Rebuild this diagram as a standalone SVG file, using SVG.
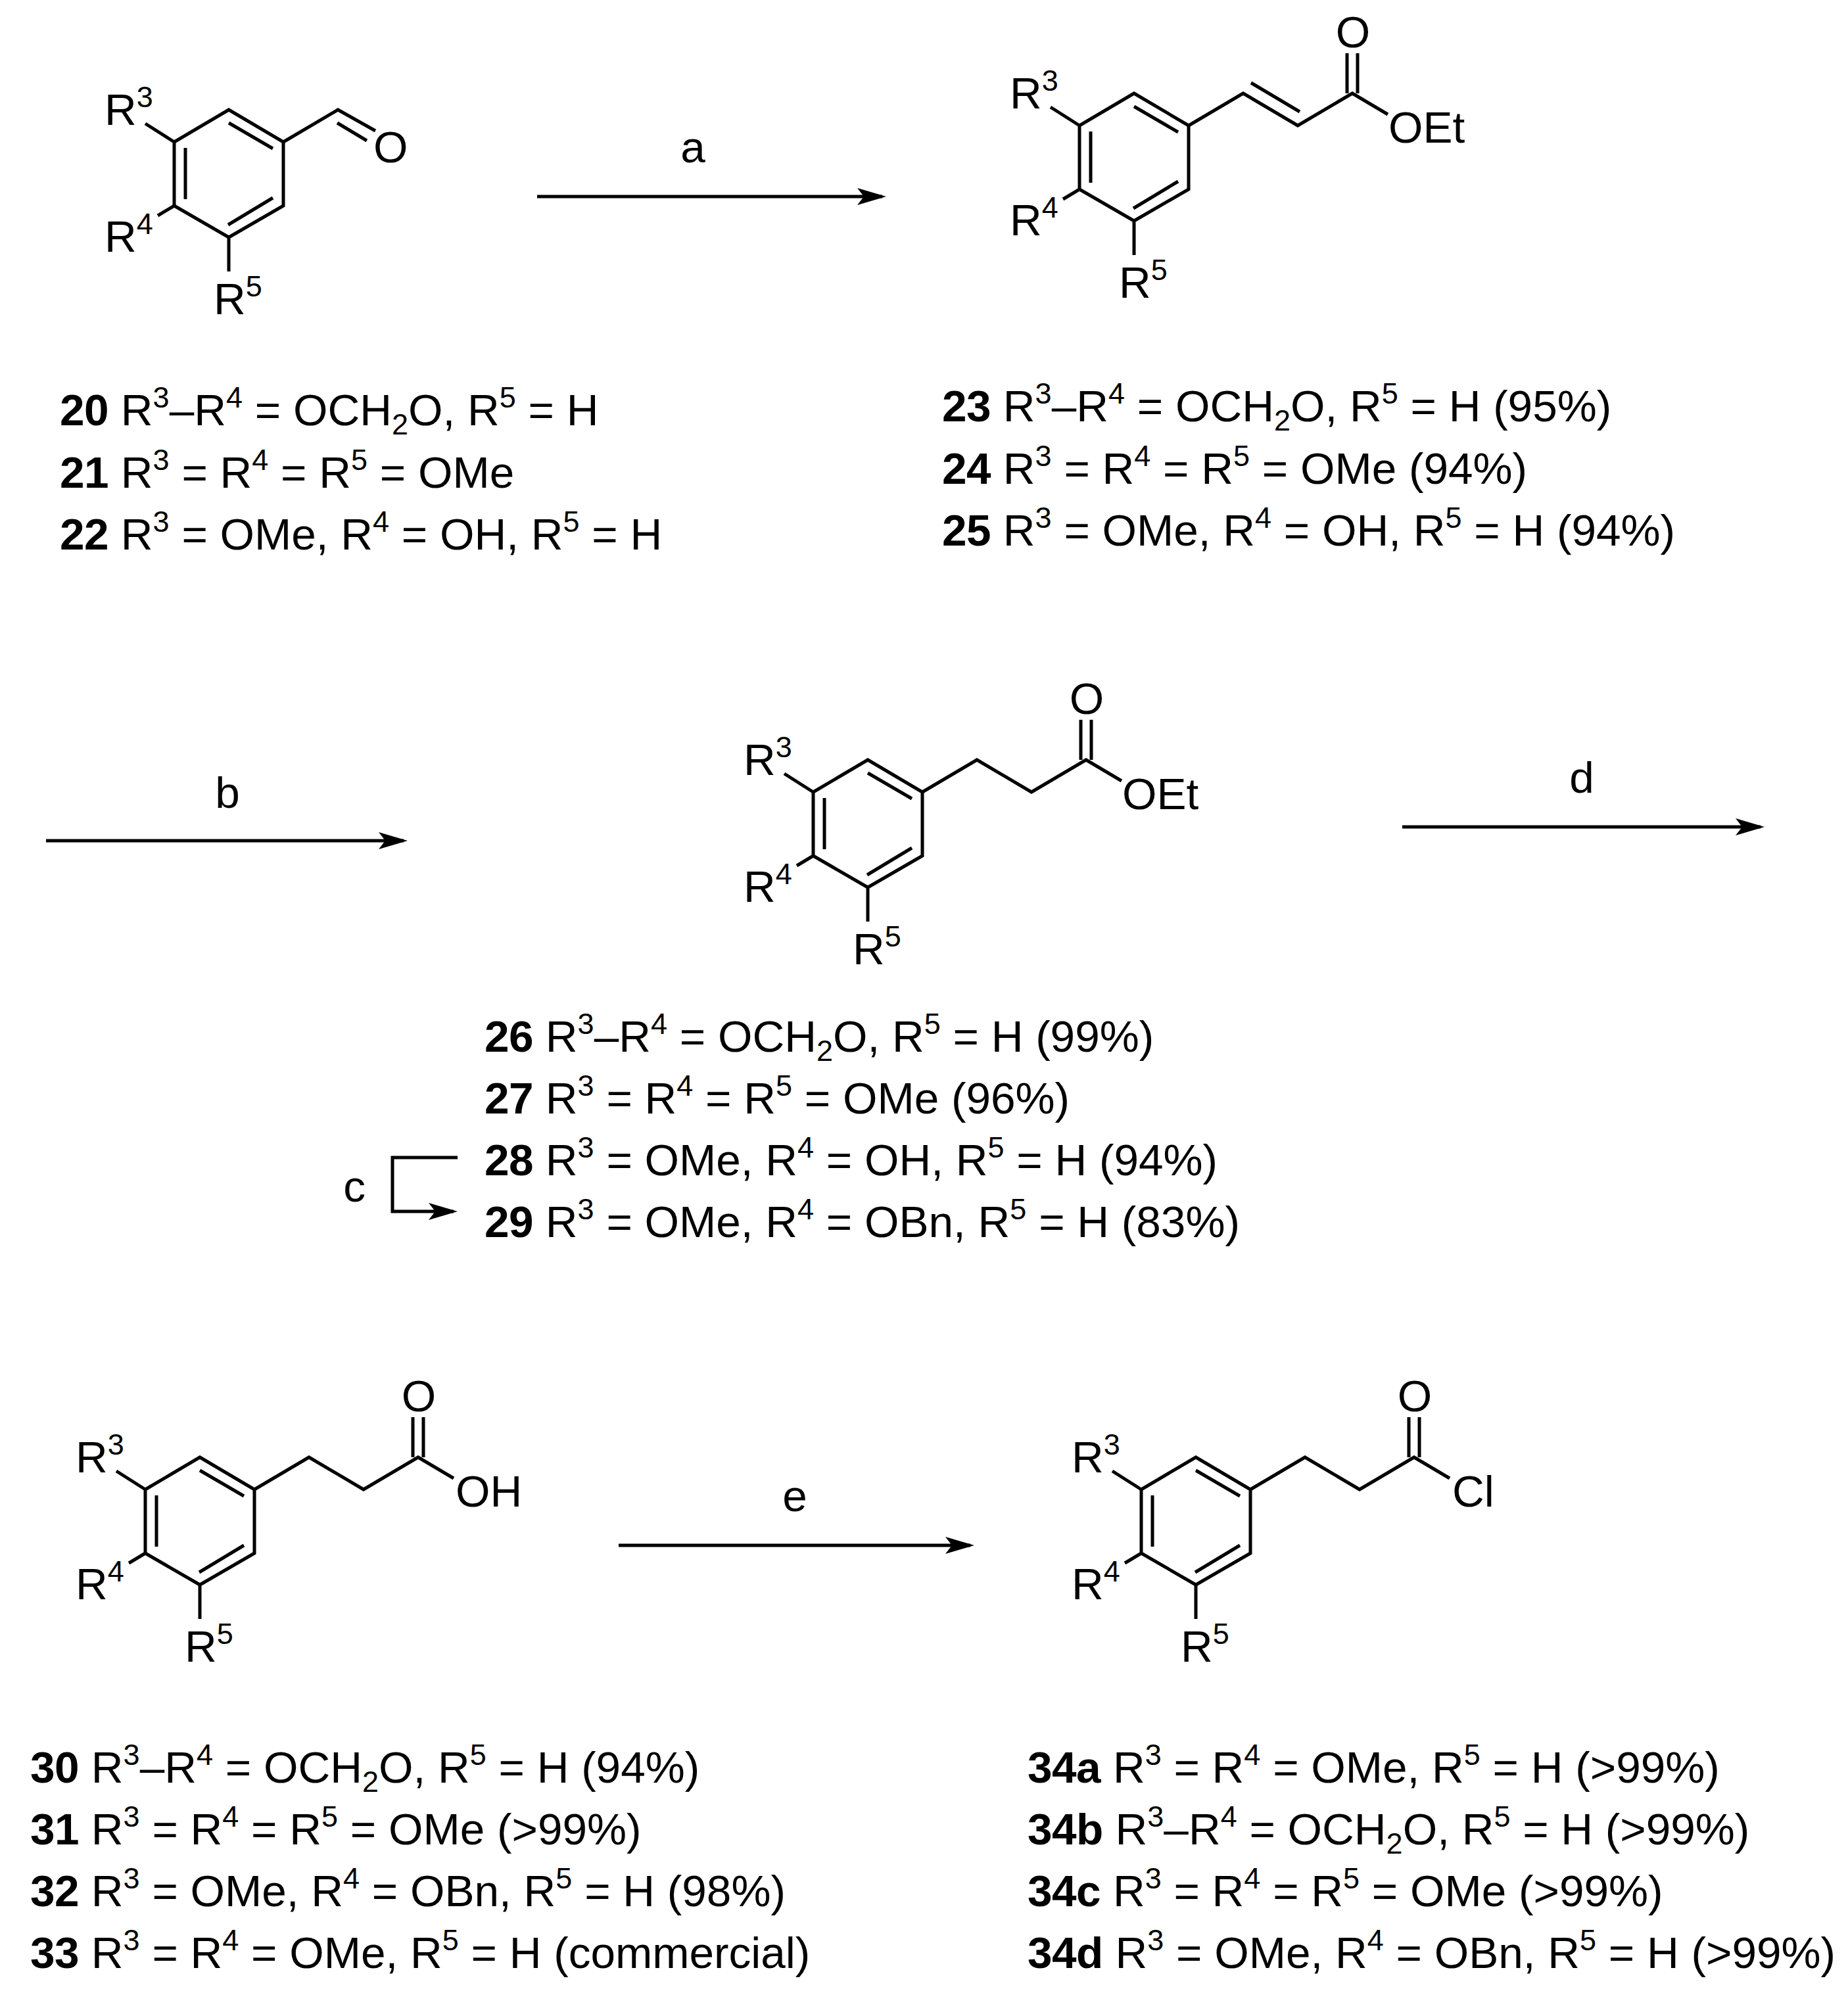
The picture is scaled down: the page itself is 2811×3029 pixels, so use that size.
<svg xmlns="http://www.w3.org/2000/svg" width="2811" height="3029" viewBox="0 0 2811 3029">
<style>
text{font-family:"Liberation Sans",Arial,sans-serif;font-size:67.5px;fill:#000}
.s{font-size:45px}
.n{font-weight:bold;letter-spacing:-0.5px}
.bond{fill:none;stroke:#000;stroke-width:5;stroke-linejoin:miter}
.arrow{fill:none;stroke:#000;stroke-width:5}
</style>
<defs>
<marker id="head" markerUnits="userSpaceOnUse" markerWidth="46" markerHeight="30" refX="38" refY="15" orient="auto"><path d="M0 2L44 15L0 28L10 15Z" fill="#000"/></marker>
<path id="core" class="bond" d="M348 167L431 216L431 313L348 361L265 313L265 216ZM348 187L415 226M282 225L282 303M347 342L415 301M221 188L265 216M240 328L265 313M348 361L348 413"/>
<path id="acyl" class="bond" d="M431 216L514 167L597 216L680 167L734 199M672 167V106M688 167V106"/>
</defs>
<rect width="2811" height="3029" fill="#fff"/>
<g id="connectors">
<line class="arrow" x1="817" y1="299" x2="1342" y2="299" marker-end="url(#head)"/>
<line class="arrow" x1="70" y1="1279" x2="614" y2="1279" marker-end="url(#head)"/>
<line class="arrow" x1="2133" y1="1258" x2="2678" y2="1258" marker-end="url(#head)"/>
<line class="arrow" x1="941" y1="2351" x2="1476" y2="2351" marker-end="url(#head)"/>
<path class="arrow" d="M696 1761H597V1843H690" marker-end="url(#head)"/>
</g>
<g id="labels">
<text x="1054" y="247" text-anchor="middle">a</text>
<text x="346" y="1229" text-anchor="middle">b</text>
<text x="539" y="1828" text-anchor="middle">c</text>
<text x="2406" y="1206" text-anchor="middle">d</text>
<text x="1209" y="2299" text-anchor="middle">e</text>
</g>
<g id="s20">
<use href="#core"/>
<path class="bond" d="M431 216L514 167L571 199M513 187L558 214"/>
<text x="568" y="247">O</text>
<text x="159" y="190">R<tspan class="s" dy="-27">3</tspan></text>
<text x="159" y="383">R<tspan class="s" dy="-27">4</tspan></text>
<text x="325" y="478">R<tspan class="s" dy="-27">5</tspan></text>
</g>
<g id="s23" transform="translate(1377,-25)">
<use href="#core"/>
<use href="#acyl"/>
<path class="bond" d="M526 151L600 195"/>
<text x="681" y="97" text-anchor="middle">O</text>
<text x="735" y="242">OEt</text>
<text x="159" y="190">R<tspan class="s" dy="-27">3</tspan></text>
<text x="159" y="383">R<tspan class="s" dy="-27">4</tspan></text>
<text x="325" y="478">R<tspan class="s" dy="-27">5</tspan></text>
</g>
<g id="s26" transform="translate(972,989)">
<use href="#core"/>
<use href="#acyl"/>
<text x="681" y="97" text-anchor="middle">O</text>
<text x="735" y="242">OEt</text>
<text x="159" y="190">R<tspan class="s" dy="-27">3</tspan></text>
<text x="159" y="383">R<tspan class="s" dy="-27">4</tspan></text>
<text x="325" y="478">R<tspan class="s" dy="-27">5</tspan></text>
</g>
<g id="s30" transform="translate(-44,2050)">
<use href="#core"/>
<use href="#acyl"/>
<text x="681" y="97" text-anchor="middle">O</text>
<text x="737" y="242">OH</text>
<text x="159" y="190">R<tspan class="s" dy="-27">3</tspan></text>
<text x="159" y="383">R<tspan class="s" dy="-27">4</tspan></text>
<text x="325" y="478">R<tspan class="s" dy="-27">5</tspan></text>
</g>
<g id="s34" transform="translate(1471,2050)">
<use href="#core"/>
<use href="#acyl"/>
<text x="681" y="97" text-anchor="middle">O</text>
<text x="738" y="242">Cl</text>
<text x="159" y="190">R<tspan class="s" dy="-27">3</tspan></text>
<text x="159" y="383">R<tspan class="s" dy="-27">4</tspan></text>
<text x="325" y="478">R<tspan class="s" dy="-27">5</tspan></text>
</g>
<g id="list-20-22">
<text x="91" y="647"><tspan class="n">20</tspan> R<tspan class="s" dy="-27">3</tspan><tspan dy="27">–R</tspan><tspan class="s" dy="-27">4</tspan><tspan dy="27"> = OCH</tspan><tspan class="s" dy="14">2</tspan><tspan dy="-14">O, R</tspan><tspan class="s" dy="-27">5</tspan><tspan dy="27"> = H</tspan></text>
<text x="91" y="742"><tspan class="n">21</tspan> R<tspan class="s" dy="-27">3</tspan><tspan dy="27"> = R</tspan><tspan class="s" dy="-27">4</tspan><tspan dy="27"> = R</tspan><tspan class="s" dy="-27">5</tspan><tspan dy="27"> = OMe</tspan></text>
<text x="91" y="836"><tspan class="n">22</tspan> R<tspan class="s" dy="-27">3</tspan><tspan dy="27"> = OMe, R</tspan><tspan class="s" dy="-27">4</tspan><tspan dy="27"> = OH, R</tspan><tspan class="s" dy="-27">5</tspan><tspan dy="27"> = H</tspan></text>
</g>
<g id="list-23-25">
<text x="1433" y="641"><tspan class="n">23</tspan> R<tspan class="s" dy="-27">3</tspan><tspan dy="27">–R</tspan><tspan class="s" dy="-27">4</tspan><tspan dy="27"> = OCH</tspan><tspan class="s" dy="14">2</tspan><tspan dy="-14">O, R</tspan><tspan class="s" dy="-27">5</tspan><tspan dy="27"> = H (95%)</tspan></text>
<text x="1433" y="736"><tspan class="n">24</tspan> R<tspan class="s" dy="-27">3</tspan><tspan dy="27"> = R</tspan><tspan class="s" dy="-27">4</tspan><tspan dy="27"> = R</tspan><tspan class="s" dy="-27">5</tspan><tspan dy="27"> = OMe (94%)</tspan></text>
<text x="1433" y="830"><tspan class="n">25</tspan> R<tspan class="s" dy="-27">3</tspan><tspan dy="27"> = OMe, R</tspan><tspan class="s" dy="-27">4</tspan><tspan dy="27"> = OH, R</tspan><tspan class="s" dy="-27">5</tspan><tspan dy="27"> = H (94%)</tspan></text>
</g>
<g id="list-26-29">
<text x="737" y="1600"><tspan class="n">26</tspan> R<tspan class="s" dy="-27">3</tspan><tspan dy="27">–R</tspan><tspan class="s" dy="-27">4</tspan><tspan dy="27"> = OCH</tspan><tspan class="s" dy="14">2</tspan><tspan dy="-14">O, R</tspan><tspan class="s" dy="-27">5</tspan><tspan dy="27"> = H (99%)</tspan></text>
<text x="737" y="1694"><tspan class="n">27</tspan> R<tspan class="s" dy="-27">3</tspan><tspan dy="27"> = R</tspan><tspan class="s" dy="-27">4</tspan><tspan dy="27"> = R</tspan><tspan class="s" dy="-27">5</tspan><tspan dy="27"> = OMe (96%)</tspan></text>
<text x="737" y="1788"><tspan class="n">28</tspan> R<tspan class="s" dy="-27">3</tspan><tspan dy="27"> = OMe, R</tspan><tspan class="s" dy="-27">4</tspan><tspan dy="27"> = OH, R</tspan><tspan class="s" dy="-27">5</tspan><tspan dy="27"> = H (94%)</tspan></text>
<text x="737" y="1882"><tspan class="n">29</tspan> R<tspan class="s" dy="-27">3</tspan><tspan dy="27"> = OMe, R</tspan><tspan class="s" dy="-27">4</tspan><tspan dy="27"> = OBn, R</tspan><tspan class="s" dy="-27">5</tspan><tspan dy="27"> = H (83%)</tspan></text>
</g>
<g id="list-30-33">
<text x="46" y="2712"><tspan class="n">30</tspan> R<tspan class="s" dy="-27">3</tspan><tspan dy="27">–R</tspan><tspan class="s" dy="-27">4</tspan><tspan dy="27"> = OCH</tspan><tspan class="s" dy="14">2</tspan><tspan dy="-14">O, R</tspan><tspan class="s" dy="-27">5</tspan><tspan dy="27"> = H (94%)</tspan></text>
<text x="46" y="2806"><tspan class="n">31</tspan> R<tspan class="s" dy="-27">3</tspan><tspan dy="27"> = R</tspan><tspan class="s" dy="-27">4</tspan><tspan dy="27"> = R</tspan><tspan class="s" dy="-27">5</tspan><tspan dy="27"> = OMe (&gt;99%)</tspan></text>
<text x="46" y="2900"><tspan class="n">32</tspan> R<tspan class="s" dy="-27">3</tspan><tspan dy="27"> = OMe, R</tspan><tspan class="s" dy="-27">4</tspan><tspan dy="27"> = OBn, R</tspan><tspan class="s" dy="-27">5</tspan><tspan dy="27"> = H (98%)</tspan></text>
<text x="46" y="2994"><tspan class="n">33</tspan> R<tspan class="s" dy="-27">3</tspan><tspan dy="27"> = R</tspan><tspan class="s" dy="-27">4</tspan><tspan dy="27"> = OMe, R</tspan><tspan class="s" dy="-27">5</tspan><tspan dy="27"> = H (commercial)</tspan></text>
</g>
<g id="list-34">
<text x="1563" y="2712"><tspan class="n">34a</tspan> R<tspan class="s" dy="-27">3</tspan><tspan dy="27"> = R</tspan><tspan class="s" dy="-27">4</tspan><tspan dy="27"> = OMe, R</tspan><tspan class="s" dy="-27">5</tspan><tspan dy="27"> = H (&gt;99%)</tspan></text>
<text x="1563" y="2806"><tspan class="n">34b</tspan> R<tspan class="s" dy="-27">3</tspan><tspan dy="27">–R</tspan><tspan class="s" dy="-27">4</tspan><tspan dy="27"> = OCH</tspan><tspan class="s" dy="14">2</tspan><tspan dy="-14">O, R</tspan><tspan class="s" dy="-27">5</tspan><tspan dy="27"> = H (&gt;99%)</tspan></text>
<text x="1563" y="2900"><tspan class="n">34c</tspan> R<tspan class="s" dy="-27">3</tspan><tspan dy="27"> = R</tspan><tspan class="s" dy="-27">4</tspan><tspan dy="27"> = R</tspan><tspan class="s" dy="-27">5</tspan><tspan dy="27"> = OMe (&gt;99%)</tspan></text>
<text x="1563" y="2994"><tspan class="n">34d</tspan> R<tspan class="s" dy="-27">3</tspan><tspan dy="27"> = OMe, R</tspan><tspan class="s" dy="-27">4</tspan><tspan dy="27"> = OBn, R</tspan><tspan class="s" dy="-27">5</tspan><tspan dy="27"> = H (&gt;99%)</tspan></text>
</g>
</svg>
